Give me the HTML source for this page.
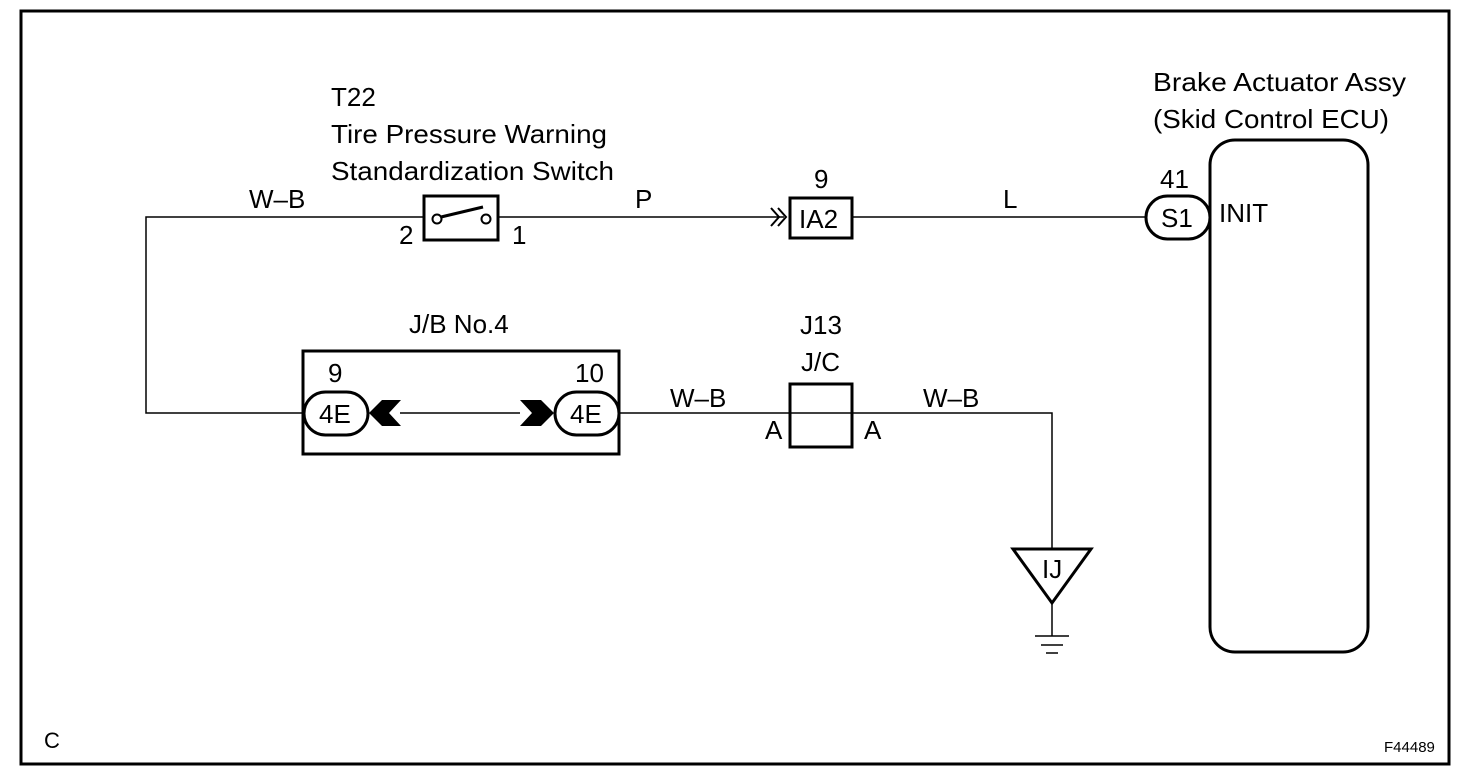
<!DOCTYPE html>
<html><head><meta charset="utf-8"><style>
html,body{margin:0;padding:0;background:#fff;}
svg{display:block;}
text{font-family:"Liberation Sans",Arial,sans-serif;font-size:26px;fill:#000;}
</style></head><body>
<svg width="1472" height="780" viewBox="0 0 1472 780" xmlns="http://www.w3.org/2000/svg">
<rect x="21" y="11" width="1428" height="753" fill="none" stroke="#000" stroke-width="3"/>
<g stroke="#000" stroke-width="1.5" fill="none">
<polyline points="423,217 146,217 146,413 303,413"/>
<line x1="498" y1="217" x2="784" y2="217"/>
<line x1="852" y1="217" x2="1147" y2="217"/>
<line x1="400" y1="413" x2="520" y2="413"/>
<polyline points="619,413 1052,413 1052,548"/>
<line x1="1052" y1="604" x2="1052" y2="636"/>
<line x1="1035" y1="636" x2="1069" y2="636"/>
<line x1="1041" y1="645" x2="1063" y2="645"/>
<line x1="1046" y1="653" x2="1058" y2="653"/>
</g>
<rect x="424" y="196" width="74" height="44" fill="#fff" stroke="#000" stroke-width="3"/>
<circle cx="437" cy="219" r="4.5" fill="#fff" stroke="#000" stroke-width="2"/>
<circle cx="486" cy="219" r="4.5" fill="#fff" stroke="#000" stroke-width="2"/>
<line x1="441" y1="217" x2="483" y2="207" stroke="#000" stroke-width="3"/>
<rect x="790" y="198" width="62" height="40" fill="#fff" stroke="#000" stroke-width="3"/>
<polyline points="771,208 779,217 771,226" fill="none" stroke="#000" stroke-width="2"/>
<polyline points="778,208 786,217 778,226" fill="none" stroke="#000" stroke-width="2"/>
<rect x="303" y="351" width="316" height="103" fill="none" stroke="#000" stroke-width="3"/>
<rect x="304" y="392" width="64" height="43" rx="21.5" fill="#fff" stroke="#000" stroke-width="3"/>
<rect x="555" y="392" width="64" height="43" rx="21.5" fill="#fff" stroke="#000" stroke-width="3"/>
<polygon points="369,413 382,400 401,400 389,413 401,426 382,426" fill="#000"/>
<polygon points="554,413 541,400 520,400 532,413 520,426 541,426" fill="#000"/>
<rect x="790" y="384" width="62" height="63" fill="#fff" stroke="#000" stroke-width="3"/>
<line x1="790" y1="413" x2="852" y2="413" stroke="#000" stroke-width="1.5"/>
<polygon points="1013,549 1091,549 1052,603" fill="#fff" stroke="#000" stroke-width="3"/>
<rect x="1210" y="140" width="158" height="512" rx="25" fill="none" stroke="#000" stroke-width="3"/>
<rect x="1146" y="196" width="64" height="43" rx="21.5" fill="#fff" stroke="#000" stroke-width="3"/>
<text x="331" y="106">T22</text>
<text x="331" y="143" textLength="276" lengthAdjust="spacingAndGlyphs">Tire Pressure Warning</text>
<text x="331" y="180" textLength="283" lengthAdjust="spacingAndGlyphs">Standardization Switch</text>
<text x="249" y="208">W–B</text>
<text x="399" y="244">2</text>
<text x="512" y="244">1</text>
<text x="635" y="208">P</text>
<text x="814" y="188">9</text>
<text x="799" y="228">IA2</text>
<text x="1003" y="208">L</text>
<text x="1153" y="91" textLength="253" lengthAdjust="spacingAndGlyphs">Brake Actuator Assy</text>
<text x="1153" y="128" textLength="236" lengthAdjust="spacingAndGlyphs">(Skid Control ECU)</text>
<text x="1160" y="188">41</text>
<text x="1161" y="227">S1</text>
<text x="1219" y="222">INIT</text>
<text x="409" y="333">J/B No.4</text>
<text x="328" y="382">9</text>
<text x="575" y="382">10</text>
<text x="319" y="423">4E</text>
<text x="570" y="423">4E</text>
<text x="670" y="407">W–B</text>
<text x="800" y="334">J13</text>
<text x="801" y="371">J/C</text>
<text x="765" y="439">A</text>
<text x="864" y="439">A</text>
<text x="923" y="407">W–B</text>
<text x="1042" y="578">IJ</text>
<text x="44" y="748" style="font-size:22px">C</text>
<text x="1384" y="752" style="font-size:15px">F44489</text>
</svg>
</body></html>
